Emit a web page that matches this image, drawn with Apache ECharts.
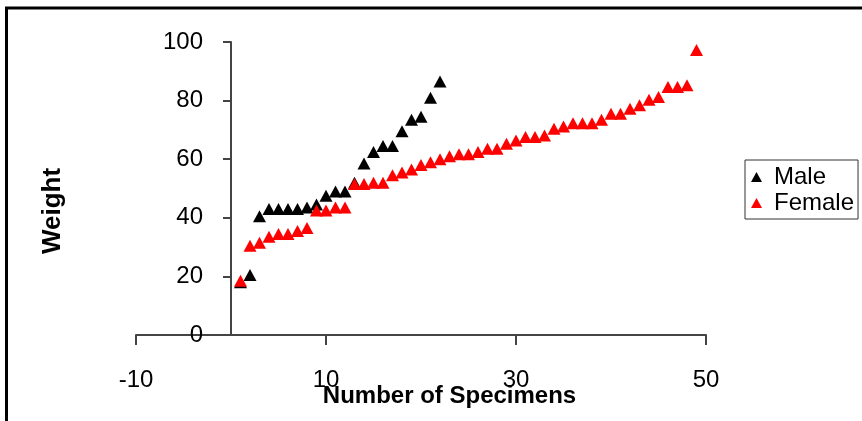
<!DOCTYPE html>
<html>
<head>
<meta charset="utf-8">
<script src="https://cdn.jsdelivr.net/npm/echarts@6/dist/echarts.min.js"></script>
<style>html,body{margin:0;padding:0;background:#fff;}#c{width:862px;height:421px;}</style>
</head>
<body>
<div id="c"></div>
<script>
var seriesNames = ['Male', 'Female'];
var maleWeight = [18, 20.5, 40.5, 43, 43, 43, 43, 43.5, 44.5, 47.5, 49, 49, 52, 58.5, 62.5, 64.5, 64.5, 69.5, 73.5, 74.5, 81, 86.5];
var femaleWeight = [18.5, 30.5, 31.5, 33.5, 34.5, 34.5, 35.5, 36.5, 42.5, 42.5, 43.5, 43.5, 51.5, 51.5, 52, 52, 54.5, 55.5, 56.5, 58, 59, 60, 61, 61.7, 61.7, 62.5, 63.6, 63.6, 65.3, 66.4, 67.6, 67.6, 68.1, 70.4, 71.2, 72.3, 72.3, 72.3, 73.5, 75.5, 75.5, 77.2, 78.4, 80.3, 81.2, 84.6, 84.6, 85.2, 97.3];
var xAxisTitle = 'Number of Specimens';
var yAxisTitle = 'Weight';

function toPoints(arr) { return arr.map(function (v, i) { return [i + 1, v]; }); }

var FONT = 'Liberation Sans, Arial, sans-serif';
var chart = echarts.init(document.getElementById('c'), null, {renderer: 'canvas'});
chart.setOption({
  animation: false,
  backgroundColor: '#fff',
  grid: {left: 136, right: 156, top: 42, bottom: 86, containLabel: false, outerBoundsMode: 'none'},
  xAxis: {
    type: 'value', min: -10, max: 50, interval: 20,
    splitLine: {show: false},
    axisLine: {onZero: true, lineStyle: {color: '#444', width: 2}},
    axisTick: {show: true, length: 10, lineStyle: {color: '#444', width: 2}},
    axisLabel: {margin: 33, fontSize: 24, color: '#000', fontFamily: FONT},
    name: xAxisTitle, nameLocation: 'middle', nameGap: 49, nameMoveOverlap: false,
    nameTextStyle: {fontSize: 24, fontWeight: 'bold', color: '#000', fontFamily: FONT, padding: [0, 0, 0, 57]}
  },
  yAxis: {
    type: 'value', min: 0, max: 100, interval: 20,
    splitLine: {show: false},
    axisLine: {onZero: true, lineStyle: {color: '#444', width: 2}},
    axisTick: {show: true, length: 8, lineStyle: {color: '#444', width: 2}},
    axisLabel: {margin: -67, fontSize: 24, color: '#000', fontFamily: FONT},
    name: yAxisTitle, nameLocation: 'middle', nameGap: 70, nameRotate: 90, nameMoveOverlap: false,
    nameTextStyle: {fontSize: 26, fontWeight: 'bold', color: '#000', fontFamily: FONT, padding: [0, 45, 0, 0]}
  },
  legend: {
    orient: 'vertical', left: 745, top: 160,
    padding: [5, 4, 4, 6], itemGap: 2, itemWidth: 11, itemHeight: 10,
    borderColor: '#333', borderWidth: 1, backgroundColor: '#fff',
    data: [{name: seriesNames[0], icon: 'triangle'}, {name: seriesNames[1], icon: 'triangle'}],
    textStyle: {fontSize: 24, color: '#000', fontFamily: FONT, padding: [0, 0, 0, 7]}
  },
  graphic: [{
    type: 'rect', silent: true, z: 100,
    shape: {x: 6.5, y: 8, width: 900, height: 500},
    style: {fill: 'none', stroke: '#000', lineWidth: 3}
  }],
  series: [{
    name: seriesNames[0], type: 'scatter', symbol: 'triangle', symbolSize: [13, 12],
    itemStyle: {color: '#000', opacity: 1},
    data: toPoints(maleWeight)
  }, {
    name: seriesNames[1], type: 'scatter', symbol: 'triangle', symbolSize: [13, 12],
    itemStyle: {color: '#ff0000', opacity: 1},
    data: toPoints(femaleWeight)
  }]
});
</script>
</body>
</html>
